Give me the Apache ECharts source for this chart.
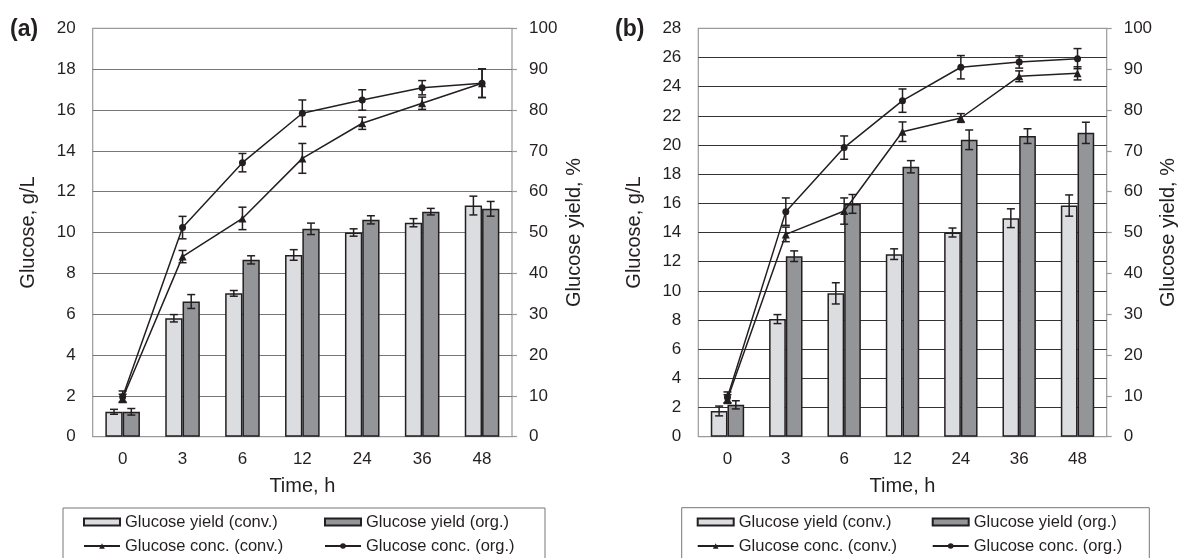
<!DOCTYPE html>
<html>
<head>
<meta charset="utf-8">
<script src="https://cdn.jsdelivr.net/npm/echarts@6/dist/echarts.min.js"></script>
<style>
  html, body { margin: 0; padding: 0; background: #fff; }
  #chart { width: 1183px; height: 558px; }
</style>
</head>
<body>
<div id="chart"></div>
<script>
const timeLabels = ['0', '3', '6', '12', '24', '36', '48'];

// panel (a): yield in %, concentration in g/L
const aYieldConv = [6.1, 29.0, 35.1, 44.5, 50.0, 52.4, 56.6];
const aYieldConvErr = [0.6, 0.9, 0.7, 1.3, 0.9, 1.0, 2.3];
const aYieldOrg = [6.1, 33.1, 43.3, 50.9, 53.1, 55.1, 55.8];
const aYieldOrgErr = [0.8, 1.7, 1.0, 1.4, 1.0, 0.8, 1.8];
const aConcConv = [1.88, 8.82, 10.69, 13.63, 15.35, 16.33, 17.31];
const aConcConvErr = [0.2, 0.3, 0.55, 0.73, 0.3, 0.3, 0.7];
const aConcOrg = [1.96, 10.24, 13.42, 15.84, 16.49, 17.09, 17.31];
const aConcOrgErr = [0.28, 0.55, 0.45, 0.65, 0.5, 0.35, 0.7];

// panel (b)
const bYieldConv = [6.3, 28.8, 35.1, 44.7, 50.0, 53.5, 56.6];
const bYieldConvErr = [1.2, 1.1, 2.6, 1.3, 1.1, 2.3, 2.6];
const bYieldOrg = [7.8, 44.2, 57.0, 66.1, 72.7, 73.6, 74.4];
const bYieldOrgErr = [1.0, 1.3, 2.3, 1.5, 2.4, 1.8, 2.6];
const bConcConv = [2.58, 13.87, 15.47, 20.91, 21.85, 24.71, 24.91];
const bConcConvErr = [0.3, 0.5, 0.9, 0.67, 0.3, 0.37, 0.45];
const bConcOrg = [2.7, 15.43, 19.82, 23.04, 25.33, 25.69, 25.92];
const bConcOrgErr = [0.37, 0.94, 0.8, 0.8, 0.8, 0.42, 0.69];

const ink = '#231f20';
const font = 'Liberation Sans, Arial, sans-serif';
const lightBar = '#dcdde0';
const darkBar = '#939598';

const errData = (vals, errs) => vals.map((v, i) => [i, v - errs[i], v + errs[i]]);

function errorBars(offset) {
    return function (params, api) {
        const i = api.value(0);
        const lo = api.coord([i, api.value(1)]);
        const hi = api.coord([i, api.value(2)]);
        const x = lo[0] + offset;
        const st = {stroke: ink, lineWidth: 1.5};
        return {
            type: 'group',
            children: [
                {type: 'line', shape: {x1: x, y1: lo[1], x2: x, y2: hi[1]}, style: st},
                {type: 'line', shape: {x1: x - 4, y1: lo[1], x2: x + 4, y2: lo[1]}, style: st},
                {type: 'line', shape: {x1: x - 4, y1: hi[1], x2: x + 4, y2: hi[1]}, style: st}
            ]
        };
    };
}

function panelSeries(g, barW, yc, yce, yo, yoe, cc, cce, co, coe) {
    const xi = g, yl = g * 2, yr = g * 2 + 1;
    return [
        {
            name: 'Glucose yield (conv.)', type: 'bar', xAxisIndex: xi, yAxisIndex: yr,
            data: yc, barWidth: barW, barGap: '0%',
            itemStyle: {color: lightBar, borderColor: ink, borderWidth: 1.5}
        },
        {
            name: 'Glucose yield (org.)', type: 'bar', xAxisIndex: xi, yAxisIndex: yr,
            data: yo, barWidth: barW, barGap: '0%',
            itemStyle: {color: darkBar, borderColor: ink, borderWidth: 1.5}
        },
        {
            type: 'custom', xAxisIndex: xi, yAxisIndex: yr, z: 3,
            renderItem: errorBars(-barW / 2), data: errData(yc, yce), encode: {x: 0, y: [1, 2]}
        },
        {
            type: 'custom', xAxisIndex: xi, yAxisIndex: yr, z: 3,
            renderItem: errorBars(barW / 2), data: errData(yo, yoe), encode: {x: 0, y: [1, 2]}
        },
        {
            name: 'Glucose conc. (conv.)', type: 'line', xAxisIndex: xi, yAxisIndex: yl, z: 4,
            data: cc, symbol: 'triangle', symbolSize: 8,
            lineStyle: {color: ink, width: 1.5}, itemStyle: {color: ink}
        },
        {
            name: 'Glucose conc. (org.)', type: 'line', xAxisIndex: xi, yAxisIndex: yl, z: 4,
            data: co, symbol: 'circle', symbolSize: 7,
            lineStyle: {color: ink, width: 1.5}, itemStyle: {color: ink}
        },
        {
            type: 'custom', xAxisIndex: xi, yAxisIndex: yl, z: 5,
            renderItem: errorBars(0), data: errData(cc, cce), encode: {x: 0, y: [1, 2]}
        },
        {
            type: 'custom', xAxisIndex: xi, yAxisIndex: yl, z: 5,
            renderItem: errorBars(0), data: errData(co, coe), encode: {x: 0, y: [1, 2]}
        }
    ];
}

function xAxisFor(g) {
    return {
        type: 'category', gridIndex: g, data: timeLabels,
        axisLine: {show: false}, axisTick: {show: false},
        axisLabel: {color: ink, fontSize: 17, fontFamily: font, margin: 14},
        name: 'Time, h', nameLocation: 'middle', nameGap: 40,
        nameTextStyle: {color: ink, fontSize: 20, fontFamily: font}
    };
}

function leftAxisFor(g, max, gridColor) {
    return {
        type: 'value', gridIndex: g, position: 'left', min: 0, max: max, interval: 2,
        axisLine: {show: false}, axisTick: {show: false},
        axisLabel: {color: ink, fontSize: 17, fontFamily: font, margin: 17},
        splitLine: {show: true, showMinLine: false, showMaxLine: false, lineStyle: {color: gridColor, width: 1}},
        name: 'Glucose, g/L', nameLocation: 'middle', nameGap: 54, nameRotate: 90,
        nameTextStyle: {color: ink, fontSize: 20, fontFamily: font}
    };
}

function rightAxisFor(g) {
    return {
        type: 'value', gridIndex: g, position: 'right', min: 0, max: 100, interval: 10,
        axisLine: {show: false},
        axisTick: {show: true, inside: false, length: 5, lineStyle: {color: '#9a9a9a', width: 1.2}},
        axisLabel: {color: ink, fontSize: 17, fontFamily: font, margin: 17},
        splitLine: {show: false},
        name: 'Glucose yield, %', nameLocation: 'middle', nameGap: 52, nameRotate: 90,
        nameTextStyle: {color: ink, fontSize: 20, fontFamily: font}
    };
}

function legendRow(left, top, textW, names, icon) {
    return {
        left: left, top: top, orient: 'horizontal', itemGap: 10,
        itemWidth: 36, itemHeight: 7, padding: 0, selectedMode: false,
        textStyle: {color: ink, fontSize: 16.5, fontFamily: font, width: textW, lineHeight: 18},
        data: names.map(n => icon ? {name: n, icon: icon} : {name: n})
    };
}

const chart = echarts.init(document.getElementById('chart'), null, {renderer: 'canvas'});

const option = {
    animation: false,
    backgroundColor: '#fff',
    title: [
        {text: '(a)', left: 10, top: 18, padding: 0, textStyle: {color: ink, fontSize: 23, fontWeight: 'bold', fontFamily: font}},
        {text: '(b)', left: 615, top: 18, padding: 0, textStyle: {color: ink, fontSize: 23, fontWeight: 'bold', fontFamily: font}}
    ],
    grid: [
        {left: 92.7, top: 28.3, width: 419.3, height: 408.4, show: true, borderColor: '#9a9a9a', borderWidth: 1.2, backgroundColor: 'transparent'},
        {left: 698.3, top: 28.3, width: 408.4, height: 408.4, show: true, borderColor: '#9a9a9a', borderWidth: 1.2, backgroundColor: 'transparent'}
    ],
    xAxis: [xAxisFor(0), xAxisFor(1)],
    yAxis: [leftAxisFor(0, 20, '#777'), rightAxisFor(0), leftAxisFor(1, 28, '#333'), rightAxisFor(1)],
    legend: [
        legendRow(83, 513, 189, ['Glucose yield (conv.)', 'Glucose yield (org.)'], 'rect'),
        legendRow(83, 537, 189, ['Glucose conc. (conv.)', 'Glucose conc. (org.)']),
        legendRow(696.7, 513, 183, ['Glucose yield (conv.)', 'Glucose yield (org.)'], 'rect'),
        legendRow(696.7, 537, 183, ['Glucose conc. (conv.)', 'Glucose conc. (org.)'])
    ],
    graphic: [
        {type: 'rect', shape: {x: 63, y: 508, width: 482, height: 60}, style: {fill: 'none', stroke: '#777', lineWidth: 1}},
        {type: 'rect', shape: {x: 681.7, y: 507.7, width: 467.6, height: 60}, style: {fill: 'none', stroke: '#777', lineWidth: 1}}
    ],
    series: [
        ...panelSeries(0, 17.3, aYieldConv, aYieldConvErr, aYieldOrg, aYieldOrgErr, aConcConv, aConcConvErr, aConcOrg, aConcOrgErr),
        ...panelSeries(1, 16.7, bYieldConv, bYieldConvErr, bYieldOrg, bYieldOrgErr, bConcConv, bConcConvErr, bConcOrg, bConcOrgErr)
    ]
};

chart.setOption(option);
</script>
</body>
</html>
